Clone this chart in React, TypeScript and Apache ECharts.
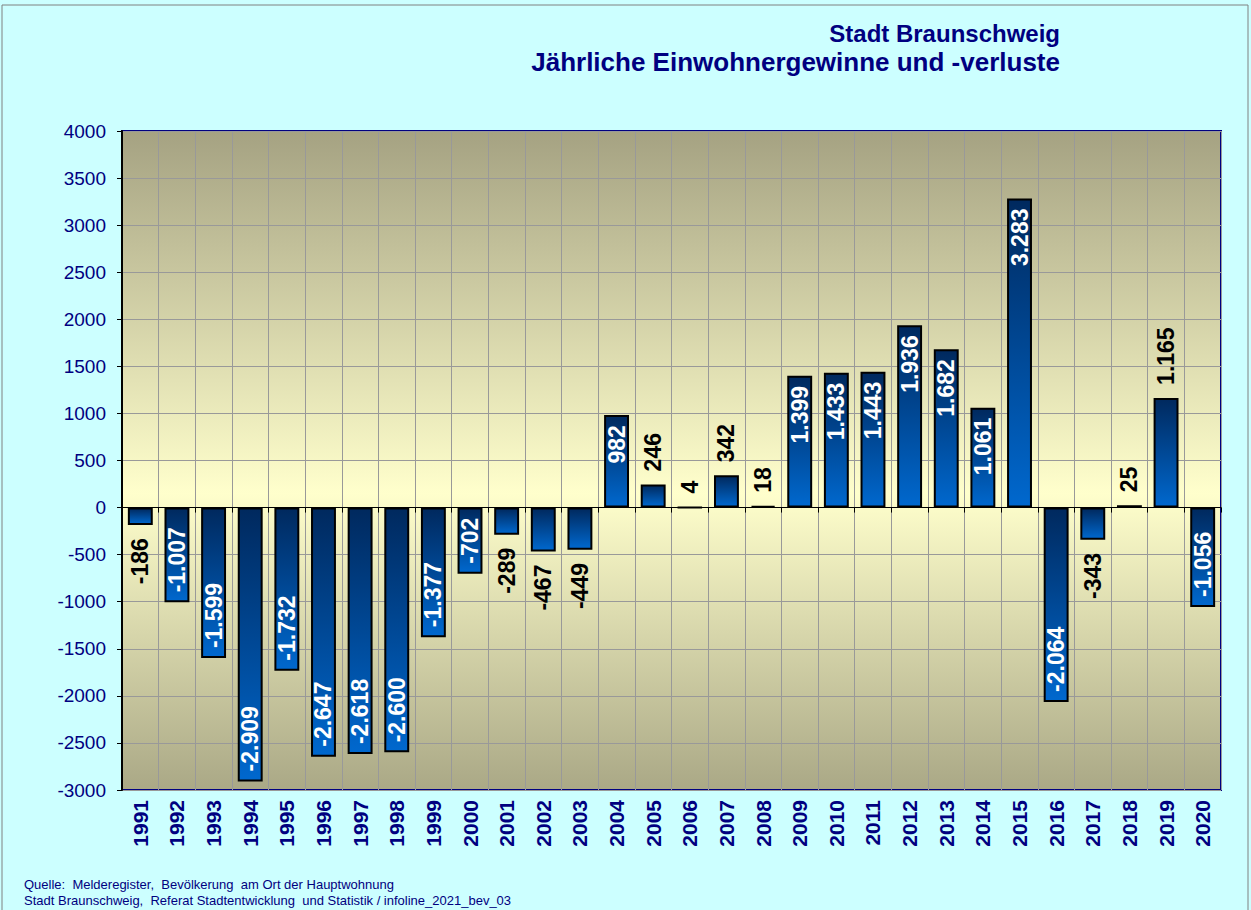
import React, { useEffect, useRef } from "react";
import * as echarts from "echarts";

const years = ["1991","1992","1993","1994","1995","1996","1997","1998","1999","2000","2001","2002","2003","2004","2005","2006","2007","2008","2009","2010","2011","2012","2013","2014","2015","2016","2017","2018","2019","2020"];
const changes = [-186,-1007,-1599,-2909,-1732,-2647,-2618,-2600,-1377,-702,-289,-467,-449,982,246,4,342,18,1399,1433,1443,1936,1682,1061,3283,-2064,-343,25,1165,-1056];
const labelInside = [false,true,true,true,true,true,true,true,true,true,false,false,false,true,false,false,false,false,true,true,true,true,true,true,true,true,false,false,false,true];
const titleLines = ["Stadt Braunschweig", "Jährliche Einwohnergewinne und -verluste"];
const footerLines = [
  "Quelle:  Melderegister,  Bevölkerung  am Ort der Hauptwohnung",
  "Stadt Braunschweig,  Referat Stadtentwicklung  und Statistik / infoline_2021_bev_03",
];

const FONT = "'Liberation Sans', Arial, sans-serif";
const NAVY = "#000080";

function fmt(v: number): string {
  const s = Math.abs(v).toString();
  let out = "";
  for (let i = 0; i < s.length; i++) {
    if (i > 0 && (s.length - i) % 3 === 0) out += ".";
    out += s[i];
  }
  return (v < 0 ? "-" : "") + out;
}

export default function App() {
  const ref = useRef<HTMLDivElement>(null);
  useEffect(() => {
    if (!ref.current) return;
    const chart = echarts.init(ref.current, null, { renderer: "svg" });
    const data = changes.map((v, i) => {
      const inside = labelInside[i];
      const pos = v >= 0;
      return {
        value: v,
        label: {
          show: true,
          rotate: 90,
          position: inside ? (pos ? "insideTop" : "insideBottom") : (pos ? "top" : "bottom"),
          align: inside ? (pos ? "right" : "left") : (pos ? "left" : "right"),
          verticalAlign: "middle",
          distance: inside ? 10 : 13,
          color: inside ? "#ffffff" : "#000000",
          fontFamily: FONT,
          fontWeight: "bold",
          fontSize: 23,
          formatter: () => fmt(v),
        },
      };
    });
    chart.setOption({
      animation: false,
      backgroundColor: "#CCFFFF",
      grid: {
        left: 122,
        right: 30,
        top: 131,
        bottom: 120,
        show: true,
        borderColor: NAVY,
        borderWidth: 2,
        backgroundColor: new echarts.graphic.LinearGradient(0, 0, 0, 1, [
          { offset: 0, color: "#A5A282" },
          { offset: 0.55, color: "#FFFFCC" },
          { offset: 1, color: "#AAA886" },
        ]),
      },
      xAxis: [
        {
          type: "category",
          data: years,
          axisLine: { onZero: true, lineStyle: { color: "#000", width: 1 } },
          axisTick: { show: true, length: 5, lineStyle: { color: "#000" } },
          axisLabel: { show: false },
          splitLine: { show: false },
        },
        {
          type: "category",
          data: years,
          position: "bottom",
          axisLine: { show: false, onZero: false },
          axisTick: { show: false },
          splitLine: { show: true, interval: 0, lineStyle: { color: "#999", width: 1 } },
          axisLabel: {
            interval: 0,
            rotate: 90,
            margin: 10,
            color: NAVY,
            fontFamily: FONT,
            fontWeight: "bold",
            fontSize: 21,
          },
        },
      ],
      yAxis: {
        type: "value",
        min: -3000,
        max: 4000,
        interval: 500,
        axisLine: { show: true, lineStyle: { color: "#000", width: 2 } },
        axisTick: { show: true, length: 5, lineStyle: { color: "#000" } },
        splitLine: { show: true, lineStyle: { color: "#999", width: 1 } },
        axisLabel: {
          color: NAVY,
          fontFamily: FONT,
          fontSize: 19,
          margin: 16,
          formatter: (v: number) => String(v),
        },
      },
      series: [
        {
          type: "bar",
          xAxisIndex: 0,
          data,
          barWidth: "68%",
          itemStyle: {
            borderColor: "#000",
            borderWidth: 2,
            color: new echarts.graphic.LinearGradient(0, 0, 0, 1, [
              { offset: 0, color: "#00295E" },
              { offset: 1, color: "#0068CE" },
            ]),
          },
        },
      ],
      graphic: [
        {
          type: "rect",
          shape: { x: 2, y: 5, width: 1246, height: 908 },
          style: { fill: "none", stroke: "#808080", lineWidth: 1 },
          silent: true,
        },
        {
          type: "text",
          x: 1060,
          y: 33,
          style: { text: titleLines[0], textAlign: "right", textVerticalAlign: "middle", fill: NAVY, font: `bold 24px ${FONT}` },
        },
        {
          type: "text",
          x: 1060,
          y: 62,
          style: { text: titleLines[1], textAlign: "right", textVerticalAlign: "middle", fill: NAVY, font: `bold 26px ${FONT}` },
        },
        {
          type: "text",
          x: 24,
          y: 884,
          style: { text: footerLines[0], textAlign: "left", textVerticalAlign: "middle", fill: NAVY, font: `13px ${FONT}` },
        },
        {
          type: "text",
          x: 24,
          y: 900,
          style: { text: footerLines[1], textAlign: "left", textVerticalAlign: "middle", fill: NAVY, font: `13px ${FONT}` },
        },
      ],
    });
    return () => chart.dispose();
  }, []);
  return (
    <div
      ref={ref}
      style={{ position: "absolute", left: 0, top: 0, width: 1251, height: 910 }}
    />
  );
}
